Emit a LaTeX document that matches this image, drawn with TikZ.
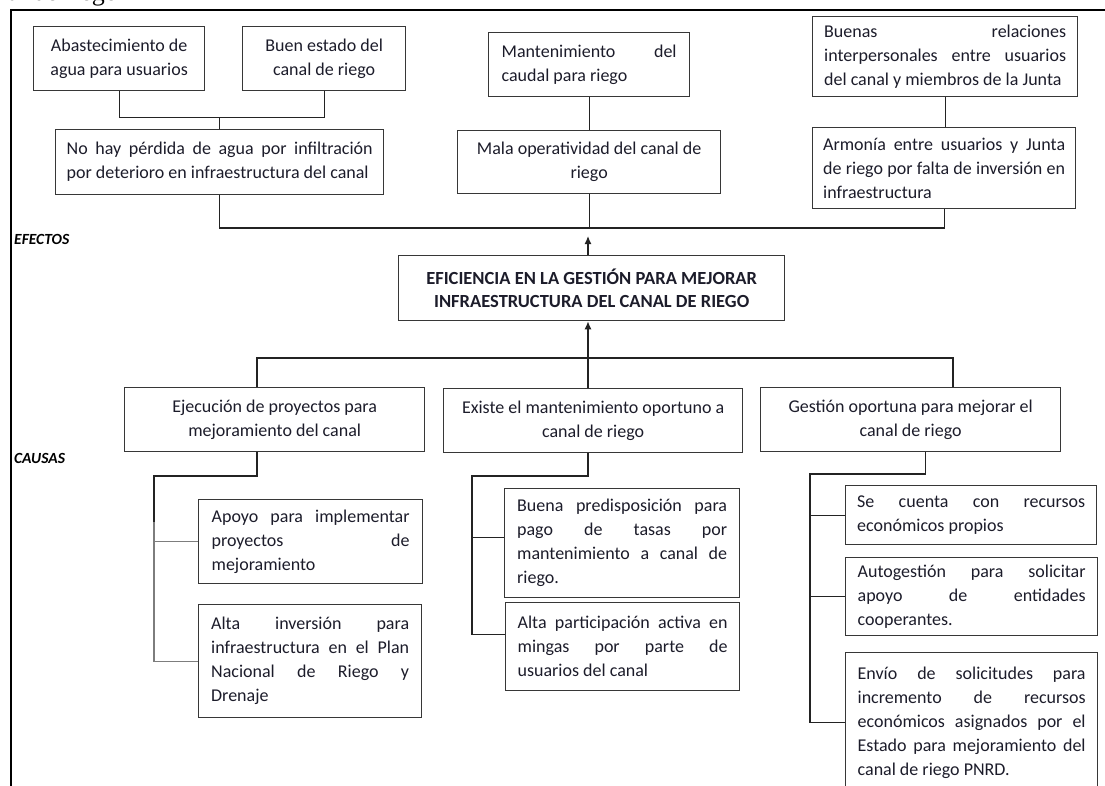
\documentclass[tikz,border=0pt]{standalone}
\usepackage{fontspec}
\setmainfont{Carlito}
\newfontfamily\cutserif{Liberation Serif}
\usetikzlibrary{arrows.meta,calc}

% a line whose inter-word spaces stretch to the full text width
\newcommand{\jl}[1]{{\spaceskip=0pt\xspaceskip=0pt\makebox[\linewidth][s]{#1}}}

\definecolor{boxc}{RGB}{55,55,55}
\definecolor{txt}{RGB}{28,28,42}
\definecolor{lnc}{RGB}{35,35,35}
\definecolor{lng}{RGB}{125,125,125}

\tikzset{
  box/.style={draw=boxc, line width=1.3pt, inner sep=0pt, anchor=north west,
              font=\fontsize{18}{24}\selectfont, text=txt},
  lft/.style={align=flush left},
  ctr/.style={align=flush center},
  conn/.style={draw=lnc, line width=1.3pt},
  connlight/.style={draw=lng, line width=1.3pt},
  tip/.style={-{Latex[length=8pt,width=7pt]}},
  lab/.style={anchor=west, inner sep=0pt, font=\bfseries\itshape\fontsize{15.5}{17}\selectfont},
}

\begin{document}
\begin{tikzpicture}[x=1pt,y=-1pt]
\useasboundingbox (0,0) rectangle (1105,785);

% caption line running off the top of the page
\node[anchor=base east, inner sep=0pt, font=\cutserif\fontsize{26}{26}\selectfont] (caption) at (118,0) {al de riego};

% outer frame (left and top sides)
\draw[line width=2.2pt] (11,800) -- (11,10) -- (1110,10);

% ---------------- effects ----------------
\node[box, ctr, minimum width=171pt, minimum height=64pt, text width=152pt] (A1) at (33,26)
  {Abastecimiento de\\agua para usuarios};
\node[box, ctr, minimum width=163pt, minimum height=64pt, text width=140pt] (A2) at (242,26)
  {Buen estado del\\canal de riego};
\node[box, lft, minimum width=328pt, minimum height=65pt, text width=306pt] (B1) at (55,129)
  {\jl{No hay pérdida de agua por infiltración}\\por deterioro en infraestructura del canal};

\node[box, lft, minimum width=201pt, minimum height=64pt, text width=175pt] (A3) at (488,32)
  {\jl{Mantenimiento del}\\caudal para riego};
\node[box, ctr, minimum width=263pt, minimum height=63pt, text width=240pt] (B2) at (457,130)
  {Mala operatividad del canal de\\riego};

\node[box, lft, minimum width=265pt, minimum height=80pt, text width=242pt] (A4) at (812,16)
  {\jl{Buenas relaciones}\\\jl{interpersonales entre usuarios}\\del canal y miembros de la Junta};
\node[box, lft, minimum width=263pt, minimum height=81pt, text width=242pt] (B3) at (812,127)
  {\jl{Armonía entre usuarios y Junta}\\\jl{de riego por falta de inversión en}\\infraestructura};

\node[lab] (efectos) at (14,239) {EFECTOS};

% ---------------- central problem ----------------
\node[box, ctr, minimum width=386pt, minimum height=65pt, text width=380pt,
      font=\bfseries\fontsize{18.5}{23}\selectfont] (central) at (398,255)
  {EFICIENCIA EN LA GESTIÓN PARA MEJORAR\\INFRAESTRUCTURA DEL CANAL DE RIEGO};

% ---------------- causes ----------------
\node[box, ctr, minimum width=300pt, minimum height=64pt, text width=285pt] (C1) at (124,387)
  {Ejecución de proyectos para\\mejoramiento del canal};
\node[box, ctr, minimum width=299pt, minimum height=64pt, text width=290pt] (C2) at (443,388)
  {Existe el mantenimiento oportuno a\\canal de riego};
\node[box, ctr, minimum width=300pt, minimum height=64pt, text width=290pt] (C3) at (760,387)
  {Gestión oportuna para mejorar el\\canal de riego};

\node[lab] (causas) at (14,458) {CAUSAS};

\node[box, lft, minimum width=224pt, minimum height=84pt, text width=198pt] (D1) at (198,499)
  {\jl{Apoyo para implementar}\\\jl{proyectos de}\\mejoramiento};
\node[box, lft, minimum width=223pt, minimum height=113pt, text width=198pt] (D2) at (198,604)
  {\jl{Alta inversión para}\\\jl{infraestructura en el Plan}\\\jl{Nacional de Riego y}\\Drenaje};

\node[box, lft, minimum width=235pt, minimum height=109pt, text width=210pt] (D3) at (504,488)
  {\jl{Buena predisposición para}\\\jl{pago de tasas por}\\\jl{mantenimiento a canal de}\\riego.};
\node[box, lft, minimum width=234pt, minimum height=88pt, text width=210pt] (D4) at (505,602)
  {\jl{Alta participación activa en}\\\jl{mingas por parte de}\\usuarios del canal};

\node[box, lft, minimum width=251pt, minimum height=59pt, text width=228pt] (D5) at (845,485)
  {\jl{Se cuenta con recursos}\\económicos propios};
\node[box, lft, minimum width=252pt, minimum height=78pt, text width=228pt] (D6) at (845,557)
  {\jl{Autogestión para solicitar}\\\jl{apoyo de entidades}\\cooperantes.};
\node[box, lft, minimum width=252pt, minimum height=140pt, text width=228pt] (D7) at (845,652)
  {\jl{Envío de solicitudes para}\\\jl{incremento de recursos}\\\jl{económicos asignados por el}\\\jl{Estado para mejoramiento del}\\canal de riego PNRD.};

% ---------------- connectors: effects ----------------
\draw[conn] (A1.south) -- ++(0,26) coordinate (e1) -| (A2.south);
\draw[conn] (B1.north) -- (B1.north |- e1);
\draw[conn] (A3.south) -- (B2.north);
\draw[conn] (A4.south) -- (A4.south |- B3.north);

\coordinate (ebar) at (0,228);
\coordinate (spine) at (588,236);
\draw[conn] (B1.south) |- (B3.south |- ebar) -- (B3.south);
\draw[conn] (B2.south) -- (B2.south |- ebar);
\draw[conn,tip] (central.north -| spine) -- (spine);

% ---------------- connectors: causes ----------------
\coordinate (cL) at (257,358);
\coordinate (cR) at (953,358);
\draw[conn] (C1.north -| cL) -- (cL) -- (cR) -- (C3.north -| cR);
\draw[conn,tip] (C2.north -| spine) -- (central.south -| spine);

% first cause and its sub-causes
\coordinate (k1) at (154,476);
\coordinate (k1m) at (154,522);
\draw[conn] (C1.south -| cL) |- (k1) -- (k1m);
\draw[connlight] (k1m) |- (D2.west);
\draw[connlight] (k1 |- D1.west) -- (D1.west);

% second cause and its sub-causes
\coordinate (k2) at (472,476);
\coordinate (d3in) at ([yshift=6pt]D3.west);
\coordinate (d4in) at ([yshift=12pt]D4.west);
\draw[conn] (C2.south -| spine) |- (k2) |- (d4in);
\draw[conn] (k2 |- d3in) -- (d3in);

% third cause and its sub-causes
\coordinate (k3) at (810,474);
\coordinate (c3out) at ([xshift=15pt]C3.south);
\draw[conn] (c3out) |- (k3) |- (D7.west);
\draw[conn] (k3 |- D5.west) -- (D5.west);
\draw[conn] (k3 |- D6.west) -- (D6.west);

\end{tikzpicture}
\end{document}
